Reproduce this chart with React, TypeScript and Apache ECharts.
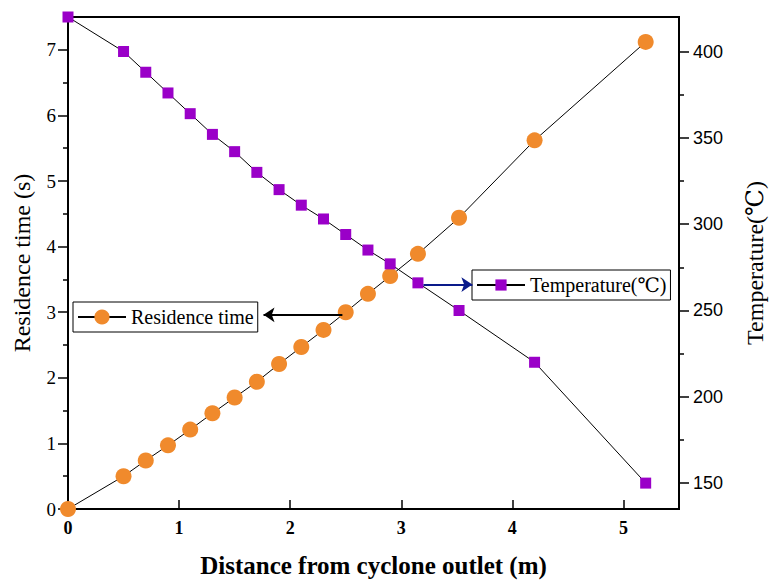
import React, { useEffect, useRef } from "react";
import * as echarts from "echarts";

// Data
const distance = [0, 0.5, 0.7, 0.9, 1.1, 1.3, 1.5, 1.7, 1.9, 2.1, 2.3, 2.5, 2.7, 2.9, 3.15, 3.52, 4.2, 5.2];
const residenceTime = [0, 0.5, 0.74, 0.97, 1.21, 1.46, 1.7, 1.94, 2.21, 2.47, 2.73, 3.0, 3.28, 3.55, 3.89, 4.44, 5.62, 7.12];
const temperature = [420, 400, 388, 376, 364, 352, 342, 330, 320, 311, 303, 294, 285, 277, 266, 250, 220, 150];

// Tick values
const xTicks = [0, 1, 2, 3, 4, 5];
const leftMajor = [0, 1, 2, 3, 4, 5, 6, 7];
const leftMinor = [0.5, 1.5, 2.5, 3.5, 4.5, 5.5, 6.5];
const rightMajor = [150, 200, 250, 300, 350, 400];
const rightMinor = [175, 225, 275, 325, 375];

// Annotation arrows (data coordinates)
const residenceArrow = [[2.47, 2.96], [1.76, 2.96]];
const temperatureArrow = [[3.2, 265], [3.64, 265]];

const SERIF = '"Liberation Serif", "Times New Roman", "DejaVu Serif", serif';
const SANS = '"Liberation Sans", Arial, sans-serif';

export default function App() {
  const ref = useRef<HTMLDivElement>(null);

  useEffect(() => {
    document.body.style.margin = "0";
    if (!ref.current) return;
    const chart = echarts.init(ref.current, undefined, { renderer: "svg" });

    const option: any = {
      animation: false,
      backgroundColor: "#fff",
      grid: {
        left: 68,
        right: 90,
        top: 17,
        bottom: 71,
        containLabel: false,
        outerBoundsMode: "none",
        show: true,
        borderColor: "#000",
        borderWidth: 2,
        backgroundColor: "transparent",
      },
      legend: [
        {
          data: ["Residence time"],
          left: 73,
          top: 302,
          itemWidth: 48,
          itemHeight: 19,
          padding: [5, 4],
          borderColor: "#000",
          borderWidth: 1,
          backgroundColor: "#fff",
          selectedMode: false,
          textStyle: { fontFamily: SERIF, fontSize: 20, color: "#000" },
        },
        {
          data: ["Temperature(℃)"],
          left: 472,
          top: 270,
          itemWidth: 48,
          itemHeight: 14,
          padding: [5, 4],
          borderColor: "#000",
          borderWidth: 1,
          backgroundColor: "#fff",
          selectedMode: false,
          textStyle: { fontFamily: SERIF, fontSize: 20, color: "#000" },
        },
      ],
      xAxis: {
        type: "value",
        min: 0,
        max: 5.5,
        name: "Distance from cyclone outlet (m)",
        nameLocation: "middle",
        nameGap: 44,
        nameTextStyle: { fontFamily: SERIF, fontSize: 25, fontWeight: "bold", color: "#000" },
        axisLine: { show: true, lineStyle: { color: "#000", width: 2 } },
        axisTick: { show: true, inside: true, length: 9, customValues: xTicks, lineStyle: { color: "#000", width: 1.5 } },
        axisLabel: { customValues: xTicks, fontFamily: SERIF, fontWeight: "bold", fontSize: 18, color: "#000", margin: 10 },
        splitLine: { show: false },
      },
      yAxis: [
        {
          type: "value",
          position: "left",
          min: 0,
          max: 7.5,
          name: "Residence time (s)",
          nameLocation: "middle",
          nameGap: 34,
          nameTextStyle: { fontFamily: SERIF, fontSize: 24, color: "#000" },
          axisLine: { show: true, lineStyle: { color: "#000", width: 2 } },
          axisTick: { show: true, inside: false, length: 10, customValues: leftMajor, lineStyle: { color: "#000", width: 1.5 } },
          axisLabel: { customValues: leftMajor, fontFamily: SERIF, fontSize: 19, color: "#000", margin: 12 },
          splitLine: { show: false },
        },
        {
          type: "value",
          position: "right",
          min: 135,
          max: 420,
          name: "Temperature(℃)",
          nameLocation: "middle",
          nameGap: 64,
          nameTextStyle: { fontFamily: SERIF, fontSize: 24, color: "#000" },
          axisLine: { show: true, lineStyle: { color: "#000", width: 2 } },
          axisTick: { show: true, inside: false, length: 10, customValues: rightMajor, lineStyle: { color: "#000", width: 1.5 } },
          axisLabel: { customValues: rightMajor, fontFamily: SANS, fontSize: 18, color: "#000", margin: 14 },
          splitLine: { show: false },
        },
        {
          type: "value",
          position: "left",
          min: 0,
          max: 7.5,
          axisLine: { show: false },
          axisTick: { show: true, inside: false, length: 5, customValues: leftMinor, lineStyle: { color: "#000", width: 1.5 } },
          axisLabel: { show: false },
          splitLine: { show: false },
        },
        {
          type: "value",
          position: "right",
          min: 135,
          max: 420,
          axisLine: { show: false },
          axisTick: { show: true, inside: false, length: 5, customValues: rightMinor, lineStyle: { color: "#000", width: 1.5 } },
          axisLabel: { show: false },
          splitLine: { show: false },
        },
      ],
      series: [
        {
          name: "Residence time",
          type: "line",
          xAxisIndex: 0,
          yAxisIndex: 0,
          data: distance.map((d, i) => [d, residenceTime[i]]),
          symbol: "circle",
          symbolSize: 16,
          itemStyle: { color: "#F08A2C" },
          lineStyle: { color: "#000", width: 1 },
          z: 2,
          markLine: {
            silent: true,
            animation: false,
            symbol: ["none", "arrow"],
            symbolSize: 11,
            label: { show: false },
            lineStyle: { color: "#000", width: 2, type: "solid" },
            data: [[{ coord: residenceArrow[0] }, { coord: residenceArrow[1] }]],
          },
        },
        {
          name: "Temperature(℃)",
          type: "line",
          xAxisIndex: 0,
          yAxisIndex: 1,
          data: distance.map((d, i) => [d, temperature[i]]),
          symbol: "rect",
          symbolSize: 11,
          itemStyle: { color: "#9A00C8" },
          lineStyle: { color: "#000", width: 1 },
          z: 3,
          markLine: {
            silent: true,
            animation: false,
            symbol: ["none", "arrow"],
            symbolSize: 11,
            label: { show: false },
            lineStyle: { color: "#0A1A8A", width: 2, type: "solid" },
            data: [[{ coord: temperatureArrow[0] }, { coord: temperatureArrow[1] }]],
          },
        },
      ],
    };

    chart.setOption(option);
    return () => {
      chart.dispose();
    };
  }, []);

  return <div ref={ref} style={{ width: 769, height: 580 }} />;
}
